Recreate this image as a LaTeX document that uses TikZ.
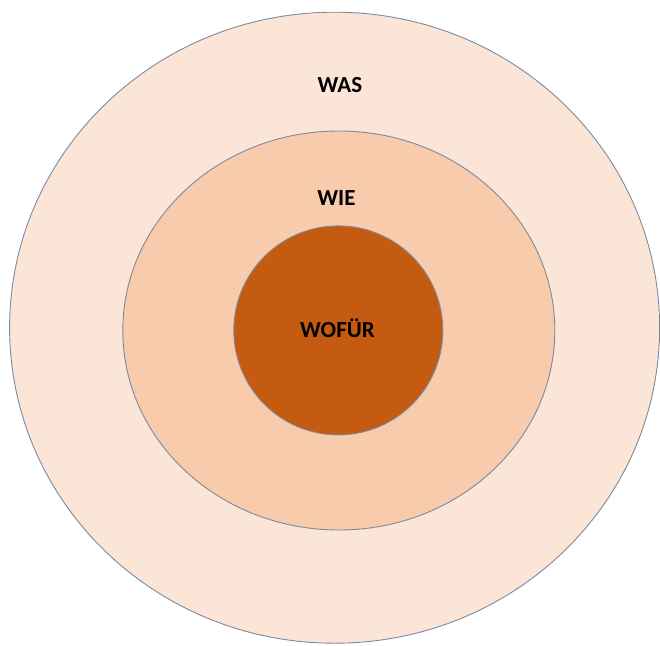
\documentclass[tikz,border=0pt]{standalone}
\usepackage{fontspec}
\setmainfont{Carlito}
\usetikzlibrary{shapes.geometric,positioning}
\definecolor{ringline}{RGB}{125,138,158}
\definecolor{outerfill}{RGB}{251,229,214}
\definecolor{midfill}{RGB}{248,203,173}
\definecolor{corefill}{RGB}{197,90,17}
\begin{document}
\begin{tikzpicture}[x=1pt,y=-1pt,
   ring/.style={ellipse,draw=ringline,line width=0.9pt,inner sep=0pt},
   every node/.style={font=\bfseries\fontsize{23}{26}\selectfont}]
  \useasboundingbox (0,0) rectangle (660,645);
  \node (outer) [ring,fill=outerfill,minimum width=650pt,minimum height=631pt] at (334.6,327.7) {};
  \node (middle) [ring,fill=midfill,minimum width=432pt,minimum height=399pt] at (338.8,330.5) {};
  \node (core) [ring,fill=corefill,minimum width=209pt,minimum height=209pt] at (338.3,330.4) {};
  \node (was) [anchor=base] at (340,92) {WAS};
  \node (wie) [anchor=base] at (336.5,205) {WIE};
  \node (wofuer) [anchor=base] at (337.5,337) {WOFÜR};
\end{tikzpicture}
\end{document}
